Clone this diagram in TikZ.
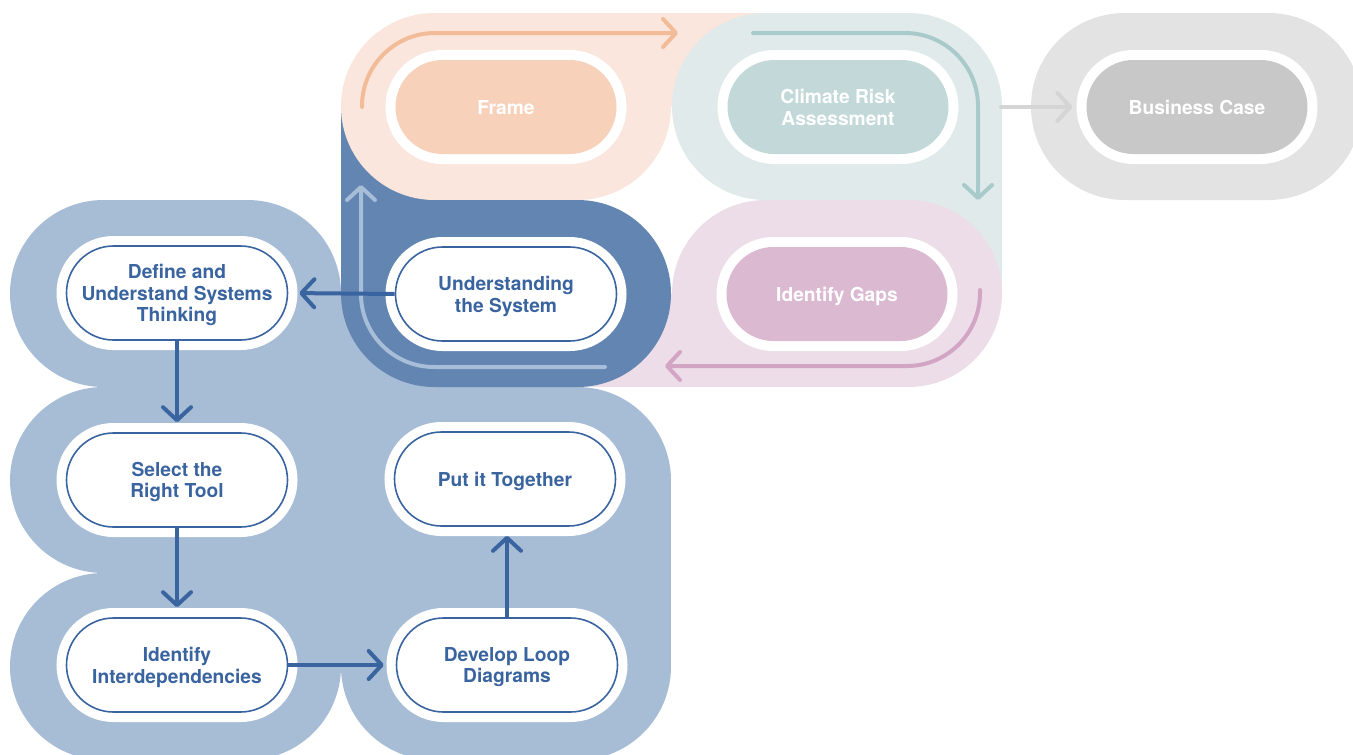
\documentclass[tikz,border=0pt]{standalone}
\usepackage{fontspec}
\setmainfont{TeX Gyre Heros}
\usetikzlibrary{arrows.meta,shapes.misc}

% palette
\definecolor{peachbg}{HTML}{FAE6DC}
\definecolor{peachin}{HTML}{F7D1B9}
\definecolor{peachar}{HTML}{F3BC98}
\definecolor{tealbg}{HTML}{E0EAEB}
\definecolor{tealin}{HTML}{C3D9D9}
\definecolor{tealar}{HTML}{A9CACA}
\definecolor{greybg}{HTML}{E3E3E3}
\definecolor{greyin}{HTML}{C8C8C8}
\definecolor{greyar}{HTML}{D5D5D5}
\definecolor{pinkbg}{HTML}{EDDDE8}
\definecolor{pinkin}{HTML}{DBB9D1}
\definecolor{pinkar}{HTML}{D3A5C5}
\definecolor{deepblue}{HTML}{6285B2}
\definecolor{deepar}{HTML}{A7BDD8}
\definecolor{paleblue}{HTML}{A7BCD5}
\definecolor{ink}{HTML}{3A64A0}

\tikzset{
  tile/.style={fill=#1, rounded corners=93.5pt},
  stage/.style={rounded rectangle, minimum width=221pt, minimum height=94pt,
    inner sep=0pt, align=center, text depth=-4.5pt,
    font=\fontsize{19.2}{21.7}\selectfont\bfseries,
    preaction={draw=white, line width=20pt}},
  pastel/.style={stage, fill=#1, text=white},
  stepbox/.style={stage, fill=white, draw=ink, line width=1.6pt, text=ink},
  chev/.style={-{Straight Barb[length=13pt,width=28pt,round]}},
  flow/.style={chev, draw=#1, line width=4pt, line cap=round, rounded corners=73pt},
  conn/.style={chev, draw=ink, line width=4pt},
}

\begin{document}
\begin{tikzpicture}[x=1pt,y=-1pt]
\useasboundingbox (0,0) rectangle (1353,755);

\begin{scope}
\clip (0,0) rectangle (1353,755);
% pale blue field behind the systems-thinking steps
\fill[tile=paleblue] (10,200) rectangle (341,387);
\fill[tile=paleblue] (10,387) rectangle (341,573);
\fill[tile=paleblue] (10,573) rectangle (341,760);
\fill[tile=paleblue] (341,387) rectangle (671,573);
\fill[tile=paleblue] (341,573) rectangle (671,760);
\fill[paleblue] (175.5,293.5) rectangle (506,666.5);
\fill[paleblue] (506,480) rectangle (671,666.5);

% square corners that join the cycle tiles
\fill[peachbg] (506,13) rectangle (838,106.5);
\fill[tealbg] (837,106.5) rectangle (1002,293.5);
\fill[pinkbg] (506,293.5) rectangle (837,387);
\fill[deepblue] (341,106.5) rectangle (506,293.5);

% cycle tiles
\fill[tile=peachbg] (341,13) rectangle (671,200);
\fill[tile=tealbg] (672,13) rectangle (1002,200);
\fill[tile=pinkbg] (672,200) rectangle (1002,387);
\fill[tile=deepblue] (341,200) rectangle (671,387);
\fill[tile=greybg] (1031,13) rectangle (1362,200);
\end{scope}

% cycle arrows
\coordinate (fa) at (362,107);   \coordinate (fb) at (362,33);  \coordinate (fc) at (678,33);
\coordinate (ca) at (753,33);    \coordinate (cb) at (978,33);  \coordinate (cc) at (978,200);
\coordinate (ga) at (980,290);   \coordinate (gb) at (980,366); \coordinate (gc) at (665,366);
\coordinate (ua) at (605,367);   \coordinate (ub) at (361,367); \coordinate (uc) at (361,185);
\coordinate (ba) at (1001,107);
\draw[flow=peachar] (fa) -- (fb) -- (fc);
\draw[flow=tealar] (ca) -- (cb) -- (cc);
\draw[flow=pinkar] (ga) -- (gb) -- (gc);
\draw[flow=deepar] (ua) -- (ub) -- (uc);

% stages
\node[pastel=peachin] (frame) at (506,107) {Frame};
\node[pastel=tealin] (climate) at (838,107) {Climate Risk\\Assessment};
\node[pastel=greyin] (business) at (1197,107) {Business Case};
\node[pastel=pinkin] (gaps) at (837,294) {Identify Gaps};
\node[stepbox] (under) at (506,294) {Understanding\\the System};
\node[stepbox] (define) at (177,293) {Define and\\Understand Systems\\Thinking};
\node[stepbox] (select) at (177,480) {Select the\\Right Tool};
\node[stepbox] (put) at (505,479) {Put it Together};
\node[stepbox] (interdep) at (177,665) {Identify\\Interdependencies};
\node[stepbox] (develop) at (507,665) {Develop Loop\\Diagrams};

\draw[flow=greyar] (ba) -- (business.west) [shorten >=14pt];

% systems-thinking sequence
\draw[conn, shorten >=11pt] (under.west) -- (define.east);
\draw[conn, shorten >=10pt] (define.south) -- (select.north);
\draw[conn, shorten >=10pt] (select.south) -- (interdep.north);
\draw[conn, shorten >=12pt] (interdep.east) -- (develop.west);
\draw[conn, shorten >=9pt] (develop.north) -- (develop.north |- put.south);
\end{tikzpicture}
\end{document}
